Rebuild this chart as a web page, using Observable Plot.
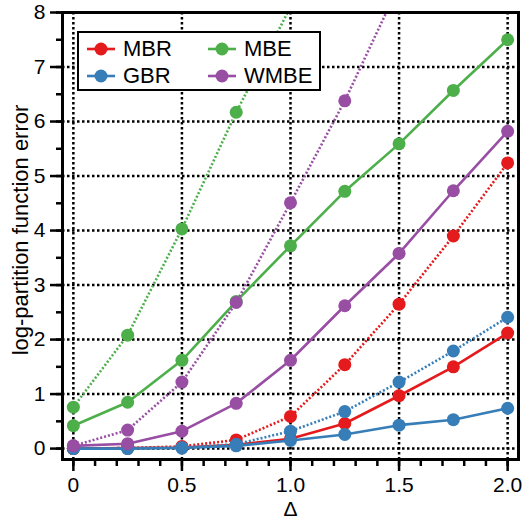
<!DOCTYPE html>
<html>
<head>
<meta charset="utf-8">
<script src="https://cdn.jsdelivr.net/npm/d3@7"></script>
<script src="https://cdn.jsdelivr.net/npm/@observablehq/plot@0.6"></script>
<style>
  html, body { margin: 0; padding: 0; background: #fff; }
  #wrap { position: relative; width: 522px; height: 523px; font-family: "Liberation Sans", Arial, sans-serif; }
  #legend { position: absolute; left: 77px; top: 31px; width: 244px; height: 60px; box-sizing: border-box;
            border: 2.5px solid #000; background: #fff; }
  .item { position: absolute; display: flex; align-items: center; font-size: 22px; color: #000; }
  .item svg { margin-right: 8px; }
</style>
</head>
<body>
<div id="wrap"></div>
<script>
// ---- data ----
const delta = [0, 0.25, 0.5, 0.75, 1.0, 1.25, 1.5, 1.75, 2.0];
const seriesNames = ["MBR", "GBR", "MBE", "WMBE"];
const seriesColors = ["#e41a1c", "#377eb8", "#4daf4a", "#984ea3"];

const mbrSolid   = [0.00, 0.01, 0.02, 0.07, 0.18, 0.46, 0.97, 1.50, 2.12];
const mbrDotted  = [0.00, 0.01, 0.04, 0.16, 0.59, 1.54, 2.65, 3.90, 5.24];
const gbrSolid   = [0.00, 0.00, 0.01, 0.05, 0.15, 0.26, 0.43, 0.53, 0.74];
const gbrDotted  = [0.00, 0.01, 0.02, 0.08, 0.32, 0.68, 1.22, 1.79, 2.41];
const mbeSolid   = [0.42, 0.85, 1.62, 2.70, 3.72, 4.72, 5.59, 6.57, 7.50];
const mbeDotted  = [0.76, 2.08, 4.03, 6.17, 8.10];
const wmbeSolid  = [0.05, 0.09, 0.32, 0.83, 1.62, 2.62, 3.58, 4.73, 5.82];
const wmbeDotted = [0.05, 0.34, 1.22, 2.68, 4.51, 6.38, 8.50];

const xMajor = [0, 0.5, 1.0, 1.5, 2.0];
const xMajorLabels = ["0", "0.5", "1.0", "1.5", "2.0"];
const xMinor = d3.range(0, 21).map(i => i / 10);
const yMajor = [0, 1, 2, 3, 4, 5, 6, 7, 8];
const yMinor = d3.range(0, 17).map(i => i / 2);
const yLabel = "log-partition function error";
const xLabel = "Δ";

// ---- build tables ----
const solid = { MBR: mbrSolid, GBR: gbrSolid, MBE: mbeSolid, WMBE: wmbeSolid };
const dotted = { MBR: mbrDotted, GBR: gbrDotted, MBE: mbeDotted, WMBE: wmbeDotted };
const toRows = (name, arr) => arr.map((v, i) => ({ series: name, x: delta[i], y: v }));

const lw = 2.6;
const seriesMarks = seriesNames.flatMap(name => {
  const s = toRows(name, solid[name]);
  const d = toRows(name, dotted[name]);
  return [
    Plot.line(d, { x: "x", y: "y", stroke: "series", strokeWidth: lw, strokeDasharray: "2,2", strokeLinecap: "butt", clip: true }),
    Plot.line(s, { x: "x", y: "y", stroke: "series", strokeWidth: lw, clip: true }),
    Plot.dot(d, { x: "x", y: "y", fill: "series", r: 6.5, clip: true }),
    Plot.dot(s, { x: "x", y: "y", fill: "series", r: 6.5, clip: true })
  ];
});

const chart = Plot.plot({
  width: 522,
  height: 523,
  marginLeft: 62,
  marginRight: 4,
  marginTop: 12,
  marginBottom: 64,
  style: { fontFamily: "Liberation Sans, Arial, sans-serif", background: "#fff" },
  x: { domain: [-0.05, 2.05] },
  y: { domain: [-0.2, 8] },
  color: { domain: seriesNames, range: seriesColors },
  marks: [
    Plot.gridX(xMajor, { stroke: "#000", strokeOpacity: 1, strokeWidth: 2.5, strokeDasharray: "2.5,2.5" }),
    Plot.gridY(yMajor, { stroke: "#000", strokeOpacity: 1, strokeWidth: 2.5, strokeDasharray: "2.5,2.5" }),
    Plot.axisX(xMinor, { tickSize: 7, strokeWidth: 2.5, tickFormat: () => "", label: null }),
    Plot.axisX(xMajor, { tickSize: 12, tickPadding: 6, strokeWidth: 2.5, fontSize: 21,
      tickFormat: (d) => xMajorLabels[xMajor.indexOf(d)], label: null }),
    Plot.axisY(yMinor, { tickSize: 6, strokeWidth: 2.5, tickFormat: () => "", label: null }),
    Plot.axisY(yMajor, { tickSize: 12, tickPadding: 5, strokeWidth: 2.5, fontSize: 21,
      tickFormat: d => String(d), label: null }),
    Plot.text([yLabel], { text: d => d, frameAnchor: "left", textAnchor: "middle", lineAnchor: "middle",
      rotate: -90, dx: -42, dy: -6, fontSize: 22 }),
    Plot.text([xLabel], { text: d => d, frameAnchor: "bottom", textAnchor: "middle", lineAnchor: "middle",
      dy: 50, fontSize: 21 }),
    ...seriesMarks,
    Plot.frame({ stroke: "#000", strokeWidth: 3 })
  ]
});

const wrap = document.getElementById("wrap");
wrap.appendChild(chart);

// ---- legend ----
const legend = document.createElement("div");
legend.id = "legend";
const pos = [[8, 3], [8, 30], [129, 3], [129, 30]];
seriesNames.forEach((name, i) => {
  const it = document.createElement("div");
  it.className = "item";
  it.style.left = pos[i][0] + "px";
  it.style.top = pos[i][1] + "px";
  const c = seriesColors[i];
  it.innerHTML = `<svg width="28" height="22"><line x1="0" x2="28" y1="11" y2="11" stroke="${c}" stroke-width="2.6"/><circle cx="14" cy="11" r="6.5" fill="${c}"/></svg><span>${name}</span>`;
  legend.appendChild(it);
});
wrap.appendChild(legend);
</script>
</body>
</html>
